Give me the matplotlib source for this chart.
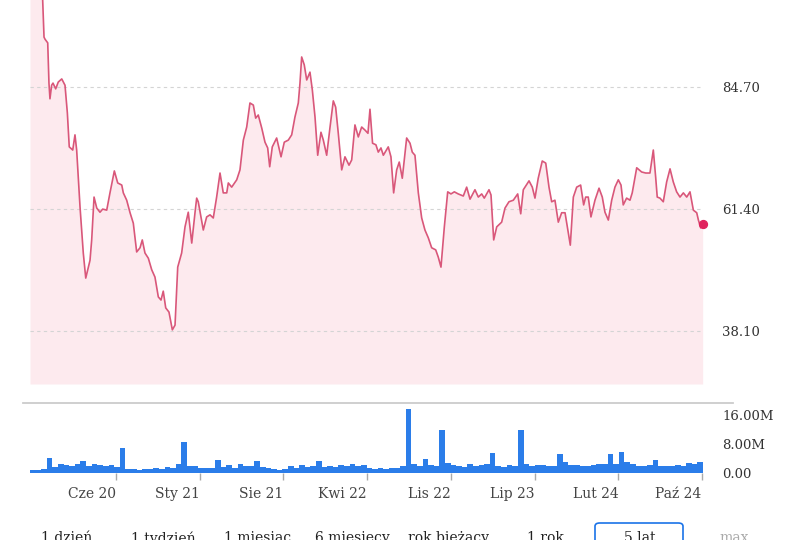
import numpy as np
import matplotlib.pyplot as plt
from matplotlib.lines import Line2D
from matplotlib.patches import FancyBboxPatch

plt.rcParams['font.family'] = ['DejaVu Serif', 'DejaVu Sans']

# price line: x = months since start of the 5-year window, y = price
months = [0, 0.9, 1.13, 1.25, 1.34, 1.58, 1.69, 1.78, 1.93, 2.05,
          2.29, 2.52, 2.83, 3.12, 3.33, 3.50, 3.81, 4.01, 4.16, 4.46,
          4.75, 4.97, 5.35, 5.50, 5.71, 5.95, 6.24, 6.48, 6.84, 7.13,
          7.52, 7.82, 8.18, 8.32, 8.62, 8.92, 9.21, 9.51, 9.81, 10.01,
          10.25, 10.55, 10.85, 11.14, 11.44, 11.68, 11.88, 12.10, 12.39, 12.69,
          12.93, 13.17, 13.52, 13.82, 14.11, 14.42, 14.71, 14.86, 15.00, 15.45,
          15.75, 16.05, 16.34, 16.64, 16.94, 17.23, 17.54, 17.68, 17.98, 18.43,
          18.72, 19.02, 19.32, 19.61, 19.91, 20.12, 20.35, 20.66, 20.95, 21.19,
          21.37, 21.60, 21.99, 22.38, 22.67, 23.03, 23.33, 23.62, 23.92, 24.07,
          24.22, 24.45, 24.67, 24.96, 25.17, 25.41, 25.65, 25.94, 26.15, 26.45,
          26.75, 27.04, 27.25, 27.48, 27.79, 28.08, 28.44, 28.68, 28.97, 29.27,
          29.57, 29.87, 30.13, 30.31, 30.54, 30.84, 31.05, 31.29, 31.50, 31.94,
          32.18, 32.42, 32.69, 32.92, 33.19, 33.58, 33.88, 34.08, 34.32, 34.62,
          34.92, 35.21, 35.51, 35.81, 36.17, 36.40, 36.64, 36.94, 37.24, 37.53,
          37.83, 38.18, 38.63, 38.93, 39.23, 39.67, 39.97, 40.27, 40.50, 40.92,
          41.10, 41.34, 41.61, 42.05, 42.35, 42.70, 43.09, 43.48, 43.75, 43.98,
          44.49, 44.78, 45.02, 45.31, 45.67, 45.98, 46.27, 46.51, 46.80, 47.10,
          47.40, 47.70, 47.99, 48.17, 48.44, 48.74, 49.09, 49.36, 49.54, 49.77,
          50.01, 50.37, 50.73, 51.02, 51.26, 51.56, 51.86, 52.15, 52.45, 52.69,
          52.89, 53.19, 53.49, 53.69, 54.09, 54.53, 54.89, 55.27, 55.57, 55.78,
          55.92, 56.16, 56.46, 56.76, 57.06, 57.35, 57.65, 57.95, 58.25, 58.55,
          58.84, 59.14, 59.44, 59.59, 59.80, 59.97]
prices = [109, 107, 101.4, 94.3, 93.9, 93.2, 85.5, 82.5, 85.1, 85.5,
          84.4, 85.7, 86.3, 85.1, 79.8, 73.3, 72.7, 75.6, 72.7, 61.8,
          53.0, 48.2, 51.6, 55.5, 63.7, 61.6, 60.8, 61.4, 61.2, 64.5,
          68.7, 66.4, 66.0, 64.5, 63.1, 60.7, 58.7, 53.2, 54.0, 55.5,
          53.0, 52.0, 49.8, 48.4, 44.6, 44.0, 45.7, 42.5, 41.7, 38.3,
          39.2, 50.3, 53.0, 58.0, 60.8, 54.9, 60.7, 63.5, 62.8, 57.4,
          59.9, 60.3, 59.7, 63.7, 68.3, 64.5, 64.5, 66.4, 65.6, 67.0,
          68.9, 74.6, 77.1, 81.7, 81.3, 78.8, 79.4, 76.9, 74.2, 73.1,
          69.5, 73.3, 75.0, 71.4, 74.2, 74.6, 75.6, 79.0, 81.7, 85.5,
          90.5, 89.0, 86.1, 87.6, 84.2, 79.0, 71.7, 76.1, 74.6, 71.7,
          77.1, 82.1, 80.9, 76.0, 68.9, 71.4, 69.8, 70.8, 77.5, 75.2,
          77.1, 76.5, 75.9, 80.5, 74.0, 73.7, 72.3, 73.1, 71.7, 73.3,
          71.4, 64.5, 68.9, 70.4, 67.3, 75.0, 74.0, 72.3, 71.7, 64.5,
          59.7, 57.4, 55.9, 54.0, 53.6, 52.2, 50.3, 58.0, 64.7, 64.3,
          64.7, 64.3, 63.9, 65.6, 63.3, 65.1, 63.7, 64.3, 63.5, 65.1,
          64.1, 55.5, 58.0, 58.9, 61.6, 62.8, 63.1, 64.3, 60.5, 65.1,
          66.8, 65.6, 63.5, 67.3, 70.6, 70.2, 65.6, 62.8, 63.1, 58.9,
          60.7, 60.7, 56.8, 54.5, 63.7, 65.6, 66.0, 62.2, 63.7, 63.7,
          59.9, 63.1, 65.4, 63.7, 60.8, 59.3, 63.1, 65.6, 67.0, 66.0,
          62.2, 63.5, 63.1, 64.5, 69.3, 68.5, 68.3, 68.3, 72.7, 67.5,
          63.7, 63.5, 62.8, 66.6, 69.1, 66.6, 64.7, 63.7, 64.5, 63.7,
          64.7, 61.2, 60.7, 59.3, 57.8, 58.6]

# volume in millions, one bar per half month
volume = [0.8, 0.9, 1.0, 4.1, 1.6, 2.6, 2.2, 1.8, 2.4, 3.4,
          2.0, 2.6, 2.2, 1.9, 2.3, 1.6, 6.8, 1.2, 1.0, 0.9,
          1.1, 1.0, 1.3, 1.2, 1.6, 1.5, 2.4, 8.6, 2.0, 1.8,
          1.5, 1.3, 1.5, 3.6, 1.6, 2.1, 1.4, 2.5, 1.8, 2.0,
          3.4, 1.7, 1.3, 1.2, 0.9, 1.0, 1.8, 1.5, 2.2, 1.6,
          1.9, 3.3, 1.7, 2.0, 1.6, 2.3, 2.0, 2.6, 1.9, 2.2,
          1.4, 1.2, 1.3, 1.1, 1.4, 1.5, 1.8, 17.6, 2.4, 2.0,
          3.9, 2.2, 1.8, 11.9, 2.8, 2.2, 1.8, 1.6, 2.4, 1.9,
          2.1, 2.6, 5.6, 2.0, 1.7, 2.3, 2.0, 11.9, 2.6, 1.9,
          2.2, 2.1, 1.8, 2.0, 5.2, 2.9, 2.3, 2.1, 1.8, 2.0,
          2.2, 2.6, 2.4, 5.2, 2.6, 5.9, 3.0, 2.4, 2.0, 1.8,
          2.1, 3.6, 2.0, 1.9, 1.8, 2.2, 2.0, 2.8, 2.5, 2.9]

price_ticks = [38.10, 61.40, 84.70]
vol_ticks = [0, 8, 16]
vol_tick_labels = ['0.00', '8.00M', '16.00M']
date_ticks = [7.67, 15.16, 22.58, 30.01, 37.53, 45.02, 52.45, 59.88]
date_labels = ['Cze 20', 'Sty 21', 'Sie 21', 'Kwi 22', 'Lis 22', 'Lip 23', 'Lut 24', 'Paź 24']
buttons = ['1 dzień', '1 tydzień', '1 miesiąc', '6 miesięcy', 'rok bieżący', '1 rok', '5 lat', 'max']
button_x = [67, 163, 258, 352, 449, 545, 640, 734]

W, H = 800, 540
fig = plt.figure(figsize=(8, 5.4), dpi=100)

# price panel
ax = fig.add_axes([30 / W, 1 - 384 / H, 673 / W, 384 / H])
ymin, ymax = 27.94, 101.4
ax.fill_between(months, prices, ymin, color='#fdeaee', lw=0)
ax.plot(months, prices, color='#d9577a', lw=1.2)
ax.scatter([months[-1]], [prices[-1]], s=32, color='#e0245e', zorder=5, clip_on=False)
ax.set_xlim(0, 60)
ax.set_ylim(ymin, ymax)
ax.set_xticks([])
ax.yaxis.tick_right()
ax.set_yticks(price_ticks)
ax.set_yticklabels([f'{v:.2f}' for v in price_ticks])
ax.tick_params(axis='y', length=0, pad=14, labelsize=9.5, labelcolor='#333333')
ax.grid(axis='y', color='#d4d4d4', linestyle=(0, (3, 3)), lw=0.8)
for s in ax.spines.values():
    s.set_visible(False)

# volume panel
axv = fig.add_axes([30 / W, 1 - 473 / H, 673 / W, 70 / H])
vol_x = 0.25 + 0.5 * np.arange(len(volume))
axv.bar(vol_x, volume, width=0.5, color='#2b7de9', lw=0)
axv.set_xlim(0, 60)
axv.set_ylim(0, 19.3)
axv.yaxis.tick_right()
axv.set_yticks(vol_ticks)
axv.set_yticklabels(vol_tick_labels)
axv.tick_params(axis='y', length=0, pad=14, labelsize=9.5, labelcolor='#333333')
axv.set_xticks(date_ticks)
axv.set_xticklabels(date_labels, ha='right')
axv.tick_params(axis='x', length=5, width=1, color='#aaaaaa', pad=5,
                labelsize=10, labelcolor='#444444')
for s in axv.spines.values():
    s.set_visible(False)

fig.add_artist(Line2D([23 / W, 733 / W], [1 - 403 / H] * 2, color='#cccccc', lw=1.3))

# range buttons (cut off at the bottom edge)
for lab, bx in zip(buttons, button_x):
    col = '#aaaaaa' if lab == 'max' else '#222222'
    fig.text(bx / W, 1 - 531 / H, lab, ha='center', va='top', fontsize=10, color=col)
fig.add_artist(FancyBboxPatch((595 / W, 1 - 560 / H), 88 / W, 37 / H,
                              boxstyle='round,pad=0,rounding_size=0.006',
                              transform=fig.transFigure, fc='none', ec='#1a73e8', lw=1.2))

fig.savefig('out.png', dpi=100)
